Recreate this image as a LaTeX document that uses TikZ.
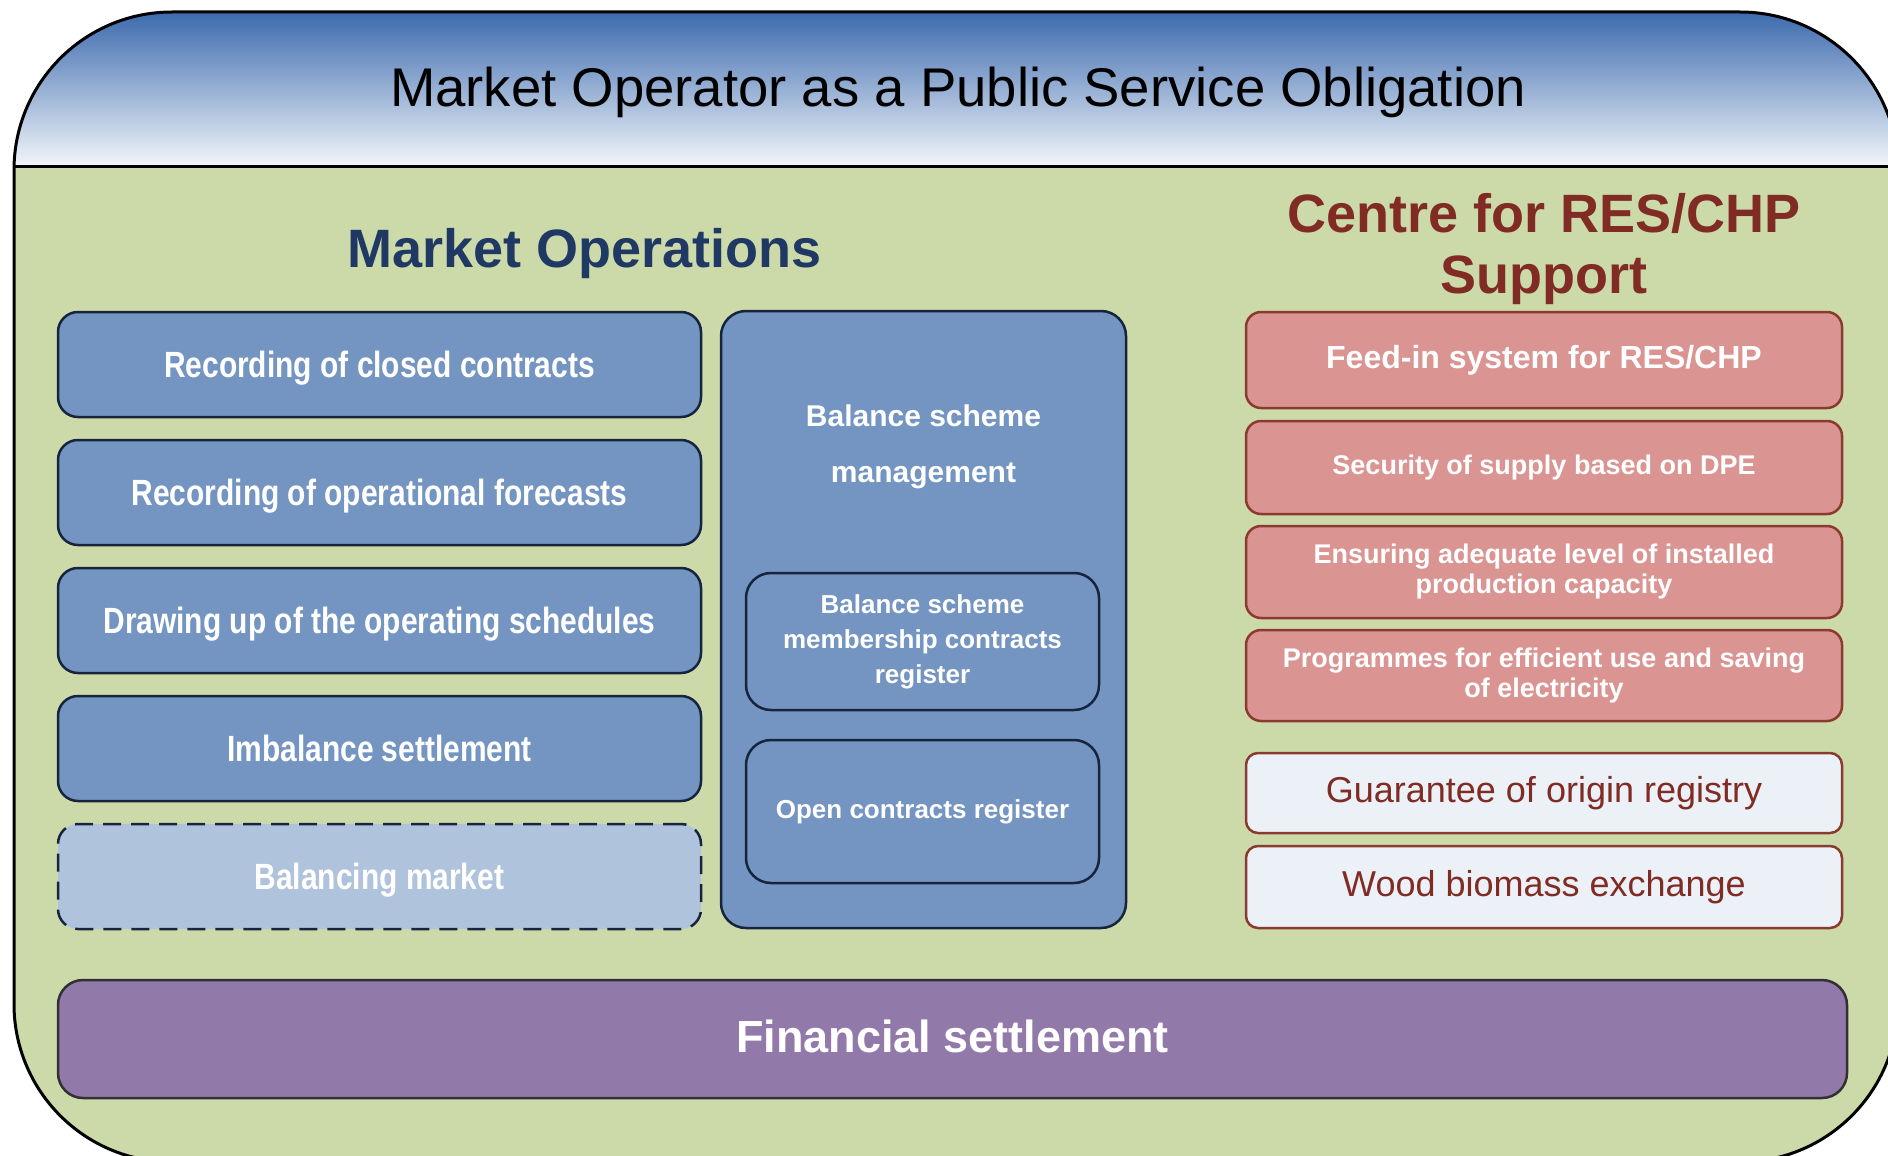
\documentclass[tikz,border=0pt]{standalone}
\usepackage{fontspec}
\setmainfont{Liberation Sans}
\newfontfamily\narrowfont[FakeStretch=0.82]{Liberation Sans}
\definecolor{bg}{RGB}{204,218,170}
\definecolor{hdrtop}{RGB}{46,96,168}
\definecolor{hdrbot}{RGB}{242,245,250}
\definecolor{bluebox}{RGB}{116,149,193}
\definecolor{bluelight}{RGB}{176,195,220}
\definecolor{bluedk}{RGB}{22,36,62}
\definecolor{redbox}{RGB}{218,148,146}
\definecolor{reddk}{RGB}{138,58,46}
\definecolor{whitebox}{RGB}{236,240,247}
\definecolor{purplebox}{RGB}{145,121,170}
\definecolor{purpledk}{RGB}{50,48,52}
\definecolor{motext}{RGB}{31,56,100}
\definecolor{crtext}{RGB}{128,43,35}
\tikzset{
  lbox/.style={draw=bluedk, line width=2.5pt, fill=bluebox, rounded corners=20pt,
    text=white, font=\narrowfont\bfseries\fontsize{36.5}{40}\selectfont, text depth=0pt,
    minimum width=643pt, minimum height=105pt, inner sep=0pt},
  dbox/.style={lbox, fill=bluelight, dash pattern=on 18pt off 10pt},
  mbox/.style={draw=bluedk, line width=2.5pt, fill=bluebox, rounded corners=25pt, inner sep=0pt},
  ibox/.style={draw=bluedk, line width=2.5pt, fill=bluebox, rounded corners=25pt, inner sep=0pt,
    text=white, align=center, font=\bfseries\fontsize{26}{35}\selectfont, minimum width=353pt},
  rbox/.style={draw=reddk, line width=2.5pt, fill=redbox, rounded corners=15pt, inner sep=0pt,
    text=white, align=center, font=\bfseries\fontsize{27}{30}\selectfont, minimum width=596pt},
  wbox/.style={draw=reddk, line width=2.5pt, fill=whitebox, rounded corners=12pt, inner sep=0pt,
    text=crtext, font=\fontsize{36}{40}\selectfont, minimum width=596pt},
  fbox/.style={draw=purpledk, line width=2.5pt, fill=purplebox, rounded corners=25pt, inner sep=0pt,
    text=white, font=\bfseries\fontsize{45}{50}\selectfont}
}
\begin{document}
\begin{tikzpicture}[x=1pt,y=-1pt]
\useasboundingbox (0,0) rectangle (1888,1156);
\begin{scope}
\clip (0,0) rectangle (1888,1156);
\path[fill=bg, rounded corners=158pt] (14,12) rectangle (1898,1162);
\begin{scope}
\clip[rounded corners=158pt] (14,12) rectangle (1898,1162);
\shade[top color=hdrtop, bottom color=hdrbot] (0,0) rectangle (1900,166);
\end{scope}
\draw[line width=3pt] (14,166) -- (1898,166);
\draw[line width=3pt, rounded corners=158pt] (14,12) rectangle (1898,1162);
\end{scope}

\node[font=\fontsize{54.5}{60}\selectfont, inner sep=0pt] (title) at (958,92) {Market Operator as a Public Service Obligation};

\node[font=\bfseries\fontsize{54}{61}\selectfont, text=motext, inner sep=0pt] (mo) at (585,254) {Market Operations};
\node[font=\bfseries\fontsize{54}{61}\selectfont, text=crtext, align=center, inner sep=0pt] (cr) at (1544,249.5) {Centre for RES/CHP\\Support};

\node[lbox] (rcc) at (379.5,364.5) {Recording of closed contracts};
\node[lbox] (rof) at (379.5,492.5) {Recording of operational forecasts};
\node[lbox] (dos) at (379.5,620.5) {Drawing up of the operating schedules};
\node[lbox] (ims) at (379.5,748.5) {Imbalance settlement};
\node[dbox] (bm) at (379.5,876.5) {Balancing market};

\node[mbox, minimum width=405pt, minimum height=617pt] (bsm) at (923.5,619.5) {};
\node[text=white, align=center, font=\bfseries\fontsize{30}{56}\selectfont, inner sep=0pt] (bsmt) at (923.5,447) {Balance scheme\\management};
\node[ibox, minimum height=137pt] (bsmc) at (922.5,641.5) {Balance scheme\\membership contracts\\register};
\node[ibox, minimum height=143pt] (ocr) at (922.5,811.5) {Open contracts register};

\node[rbox, minimum height=96pt, font=\bfseries\fontsize{32}{36}\selectfont] (fis) at (1544,360) {Feed-in system for RES/CHP};
\node[rbox, minimum height=93pt] (sos) at (1544,467.5) {Security of supply based on DPE};
\node[rbox, minimum height=92pt] (eal) at (1544,572) {Ensuring adequate level of installed\\production capacity};
\node[rbox, minimum height=91pt] (pro) at (1544,675.5) {Programmes for efficient use and saving\\of electricity};
\node[wbox, minimum height=80pt] (goo) at (1544,793) {Guarantee of origin registry};
\node[wbox, minimum height=82pt] (wbe) at (1544,887) {Wood biomass exchange};

\node[fbox, minimum width=1789pt, minimum height=118pt, text depth=5pt] (fin) at (952.5,1039) {Financial settlement};
\end{tikzpicture}
\end{document}
